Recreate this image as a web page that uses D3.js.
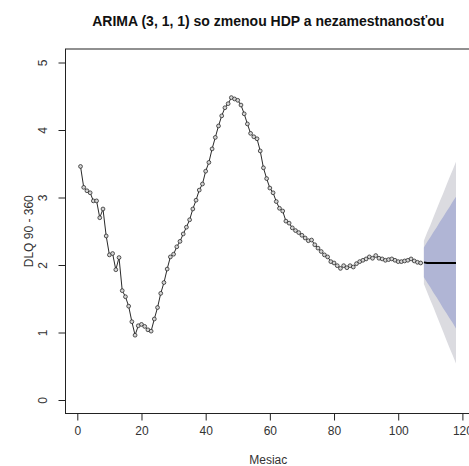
<!DOCTYPE html>
<html>
<head>
<meta charset="utf-8">
<script src="https://cdn.jsdelivr.net/npm/d3@7"></script>
<style>
  body { margin: 0; background: #fff; }
  svg { display: block; font-family: 'Liberation Sans', Arial, sans-serif; }
  .tick text { font-size: 12px; fill: #333; }
  .title { font-size: 14px; font-weight: bold; fill: #111; }
  .axis-label { font-size: 12px; fill: #333; }
</style>
</head>
<body>
<svg width="469" height="466"></svg>
<script>
// observed series, months 1..107
const months = d3.range(1, 108);
const dlq = [
  3.46, 3.15, 3.10, 3.07, 2.95, 2.95, 2.70, 2.83, 2.43, 2.15,
  2.17, 1.93, 2.11, 1.62, 1.53, 1.39, 1.16, 0.96, 1.10, 1.12,
  1.09, 1.04, 1.02, 1.20, 1.37, 1.58, 1.74, 1.94, 2.12, 2.16,
  2.27, 2.35, 2.46, 2.56, 2.67, 2.83, 2.96, 3.11, 3.20, 3.39,
  3.52, 3.72, 3.89, 4.06, 4.21, 4.33, 4.39, 4.48, 4.46, 4.44,
  4.37, 4.24, 4.09, 3.95, 3.90, 3.87, 3.69, 3.44, 3.28, 3.14,
  3.07, 2.94, 2.84, 2.80, 2.65, 2.62, 2.55, 2.51, 2.48, 2.44,
  2.40, 2.36, 2.37, 2.30, 2.25, 2.20, 2.15, 2.12, 2.05, 2.03,
  1.99, 1.95, 1.99, 1.96, 1.99, 1.97, 2.02, 2.05, 2.07, 2.09,
  2.12, 2.10, 2.14, 2.10, 2.09, 2.07, 2.08, 2.09, 2.07, 2.05,
  2.05, 2.06, 2.07, 2.09, 2.06, 2.04, 2.03
];

// forecast, months 108..118
const fcMonths = d3.range(108, 119);
const fcMean = [2.04, 2.03, 2.03, 2.03, 2.03, 2.03, 2.03, 2.03, 2.03, 2.03, 2.03];
const hi80 = [2.26, 2.34, 2.41, 2.49, 2.56, 2.64, 2.71, 2.79, 2.86, 2.94, 3.01];
const lo80 = [1.82, 1.74, 1.67, 1.59, 1.52, 1.44, 1.36, 1.29, 1.21, 1.14, 1.06];
const hi95 = [2.36, 2.48, 2.59, 2.71, 2.83, 2.95, 3.06, 3.18, 3.30, 3.41, 3.53];
const lo95 = [1.72, 1.60, 1.48, 1.37, 1.25, 1.13, 1.01, 0.89, 0.77, 0.66, 0.54];

const xTicks = [0, 20, 40, 60, 80, 100, 120];
const yTicks = [0, 1, 2, 3, 4, 5];

const svg = d3.select('svg');

const render = () => {
  // plot region, R style (4% padding on both scales)
  const left = 65.5, right = 471, top = 49, bottom = 413.5;

  const xScale = d3.scaleLinear()
    .domain([1 - 117 * 0.04, 118 + 117 * 0.04])
    .range([left, right]);

  const yScale = d3.scaleLinear()
    .domain([-0.2, 5.2])
    .range([bottom, top]);

  // fan: 95% then 80%
  const band = (lo, hi) => d3.area()
    .x((d, i) => xScale(fcMonths[i]))
    .y0((d, i) => yScale(lo[i]))
    .y1((d, i) => yScale(hi[i]));

  svg.append('path')
    .datum(fcMonths)
    .attr('d', band(lo95, hi95))
    .attr('fill', '#dbdbe0');

  svg.append('path')
    .datum(fcMonths)
    .attr('d', band(lo80, hi80))
    .attr('fill', '#b0b5d5');

  // observed line + points
  const line = d3.line()
    .x((d, i) => xScale(months[i]))
    .y(d => yScale(d));

  svg.append('path')
    .datum(dlq)
    .attr('d', line)
    .attr('fill', 'none')
    .attr('stroke', '#111')
    .attr('stroke-width', 0.9);

  svg.append('g').selectAll('circle').data(dlq)
    .enter().append('circle')
    .attr('cx', (d, i) => xScale(months[i]))
    .attr('cy', d => yScale(d))
    .attr('r', 1.9)
    .attr('fill', '#d4d4d4')
    .attr('stroke', '#222')
    .attr('stroke-width', 0.75);

  // forecast mean
  svg.append('path')
    .datum(fcMean)
    .attr('d', d3.line()
      .x((d, i) => xScale(fcMonths[i]))
      .y(d => yScale(d)))
    .attr('fill', 'none')
    .attr('stroke', '#000')
    .attr('stroke-width', 1.8);

  // box
  svg.append('rect')
    .attr('x', left)
    .attr('y', top)
    .attr('width', right - left)
    .attr('height', bottom - top)
    .attr('fill', 'none')
    .attr('stroke', '#222')
    .attr('stroke-width', 1);

  // axes
  const xAxisG = svg.append('g')
    .attr('transform', `translate(0, ${bottom})`)
    .call(d3.axisBottom(xScale).tickValues(xTicks).tickSize(7).tickPadding(6));
  xAxisG.select('.domain')
    .attr('d', `M${xScale(0)},0H${xScale(120)}`)
    .attr('stroke', '#222');
  xAxisG.selectAll('.tick line').attr('stroke', '#222');

  const yAxisG = svg.append('g')
    .attr('transform', `translate(${left}, 0)`)
    .call(d3.axisLeft(yScale).tickValues(yTicks).tickFormat(d3.format('d')).tickSize(7));
  yAxisG.select('.domain').remove();
  yAxisG.selectAll('.tick line').attr('stroke', '#222');
  yAxisG.selectAll('.tick text')
    .attr('x', 0)
    .attr('dy', null)
    .attr('text-anchor', 'middle')
    .attr('transform', 'translate(-19, 0) rotate(-90)');

  // labels
  svg.append('text')
    .attr('class', 'title')
    .attr('x', (left + right) / 2)
    .attr('y', 26)
    .attr('text-anchor', 'middle')
    .text('ARIMA (3, 1, 1) so zmenou HDP a nezamestnanosťou');

  svg.append('text')
    .attr('class', 'axis-label')
    .attr('x', (left + right) / 2)
    .attr('y', 464)
    .attr('text-anchor', 'middle')
    .text('Mesiac');

  svg.append('text')
    .attr('class', 'axis-label')
    .attr('transform', `translate(33, ${(top + bottom) / 2}) rotate(-90)`)
    .attr('text-anchor', 'middle')
    .text('DLQ 90 - 360');
};

render();
</script>
</body>
</html>
